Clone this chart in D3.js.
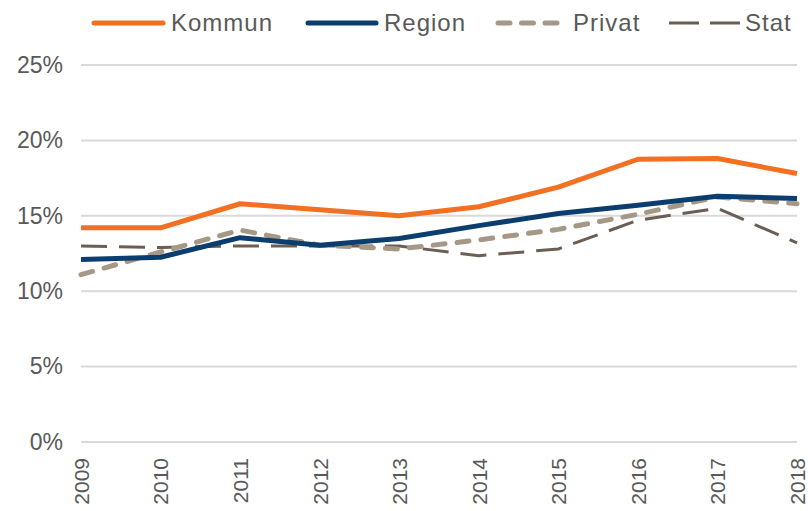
<!DOCTYPE html>
<html>
<head>
<meta charset="utf-8">
<script src="https://cdn.jsdelivr.net/npm/d3@7"></script>
<style>
  body { margin: 0; background: #fff; }
  svg { display: block; font-family: "Liberation Sans", Arial, sans-serif; }
</style>
</head>
<body>
<svg id="chart" width="808" height="511"></svg>
<script>
const years = [2009, 2010, 2011, 2012, 2013, 2014, 2015, 2016, 2017, 2018];
const kommun = [14.2, 14.2, 15.8, 15.4, 15.0, 15.6, 16.9, 18.75, 18.8, 17.8];
const region = [12.1, 12.25, 13.55, 13.05, 13.5, 14.35, 15.15, 15.7, 16.3, 16.15];
const privat = [11.1, 12.6, 14.05, 13.05, 12.8, 13.4, 14.1, 15.1, 16.25, 15.8];
const stat = [13.0, 12.9, 13.0, 13.0, 13.0, 12.35, 12.8, 14.7, 15.5, 13.2];
const yTicks = [0, 5, 10, 15, 20, 25];

const series = [
  { name: 'Kommun', values: kommun, color: '#f36f21', width: 5, dash: null, cap: 'butt' },
  { name: 'Region', values: region, color: '#0b3d6e', width: 5, dash: null, cap: 'butt' },
  { name: 'Privat', values: privat, color: '#a69886', width: 5, dash: '12,12', cap: 'round' },
  { name: 'Stat', values: stat, color: '#6b5f55', width: 3, dash: '26,12', cap: 'butt' }
];

const svg = d3.select('#chart');
const margin = { top: 65, right: 11, bottom: 69, left: 81 };
const width = 808 - margin.left - margin.right;
const height = 511 - margin.top - margin.bottom;

const x = d3.scalePoint().domain(years).range([0, width]);
const y = d3.scaleLinear().domain([0, 25]).range([height, 0]);

const g = svg.append('g').attr('transform', `translate(${margin.left},${margin.top})`);

// gridlines
g.append('g')
  .selectAll('line')
  .data(yTicks)
  .enter().append('line')
  .attr('x1', 0).attr('x2', width)
  .attr('y1', d => y(d)).attr('y2', d => y(d))
  .attr('stroke', '#d9d9d9').attr('stroke-width', 2);

// y axis labels
const yAxis = g.append('g')
  .call(d3.axisLeft(y).tickValues(yTicks).tickFormat(d => d + '%').tickSize(0).tickPadding(18));
yAxis.select('.domain').remove();
yAxis.selectAll('text').attr('fill', '#595959').style('font-size', '23px');

// x axis labels
const xAxis = g.append('g')
  .attr('transform', `translate(0,${height})`)
  .call(d3.axisBottom(x).tickSize(0).tickPadding(0));
xAxis.select('.domain').remove();
xAxis.selectAll('text')
  .attr('fill', '#595959').style('font-size', '21px')
  .attr('transform', 'rotate(-90)')
  .attr('text-anchor', 'end')
  .attr('x', -16).attr('y', 0).attr('dy', '0.35em');

const line = d3.line()
  .x((d, i) => x(years[i]))
  .y(d => y(d));

// draw in reverse so Kommun sits on top
[...series].reverse().forEach(s => {
  g.append('path')
    .datum(s.values)
    .attr('fill', 'none')
    .attr('stroke', s.color)
    .attr('stroke-width', s.width)
    .attr('stroke-dasharray', s.dash)
    .attr('stroke-linecap', s.cap)
    .attr('stroke-linejoin', 'round')
    .attr('d', line);
});

// legend
const legendItems = [
  { x1: 94, x2: 163, tx: 171, dash: null },
  { x1: 308, x2: 376, tx: 384, dash: null },
  { x1: 498, x2: 562, tx: 573, dash: '12,11.5' },
  { x1: 669, x2: 740, tx: 745, dash: '30,11' }
];
const leg = svg.append('g');
series.forEach((s, i) => {
  const p = legendItems[i];
  leg.append('line')
    .attr('x1', p.x1).attr('x2', p.x2)
    .attr('y1', 23).attr('y2', 23)
    .attr('stroke', s.color)
    .attr('stroke-width', s.width)
    .attr('stroke-dasharray', p.dash)
    .attr('stroke-linecap', s.name === 'Stat' ? 'butt' : 'round');
  leg.append('text')
    .attr('x', p.tx)
    .attr('y', 23).attr('dy', '0.35em')
    .attr('fill', '#595959').style('font-size', '24px')
    .style('letter-spacing', '1px')
    .text(s.name);
});
</script>
</body>
</html>
